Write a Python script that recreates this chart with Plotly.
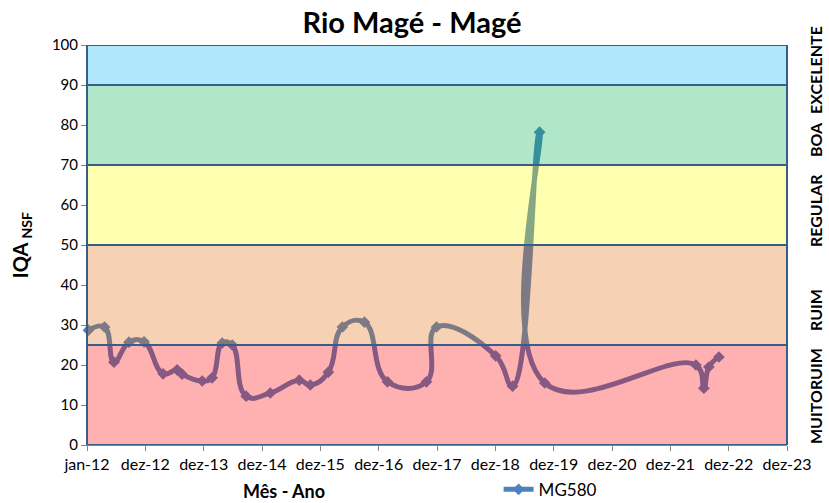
import datetime as dt
import plotly.graph_objects as go

# ---- data ----
dates = ["2012-01-10", "2012-04-20", "2012-06-18", "2012-09-20", "2012-12-23",
         "2013-04-21", "2013-07-18", "2013-08-18", "2013-12-22", "2014-02-22",
         "2014-04-26", "2014-06-28", "2014-09-23", "2015-02-21", "2015-08-21",
         "2015-10-29", "2016-02-19", "2016-05-17", "2016-10-02", "2017-02-23",
         "2017-10-25", "2017-12-27", "2019-01-01", "2019-04-17", "2019-10-03",
         "2019-11-04", "2022-06-07", "2022-07-27", "2022-08-27", "2022-10-29"]
iqa = [28.7, 29.5, 20.7, 25.7, 25.8,
       17.8, 18.8, 17.7, 16.0, 16.8,
       25.5, 25.0, 12.2, 13.0, 16.2,
       15.0, 18.2, 29.5, 30.7, 15.8,
       15.8, 29.5, 22.3, 14.7, 78.2,
       15.5, 20.0, 14.2, 19.5, 22.0]
series_name = "MG580"

tick_labels = ["jan-12", "dez-12", "dez-13", "dez-14", "dez-15", "dez-16",
               "dez-17", "dez-18", "dez-19", "dez-20", "dez-21", "dez-22", "dez-23"]

band_names = ["MUITORUIM", "RUIM", "REGULAR", "BOA", "EXCELENTE"]
band_low = [0, 25, 50, 70, 90]
band_high = [25, 50, 70, 90, 100]
band_colors = ["rgba(255,0,0,0.31)", "rgba(228,108,10,0.31)", "rgba(255,255,0,0.31)",
               "rgba(0,176,80,0.31)", "rgba(0,176,240,0.31)"]

# label placement (paper y) for the band names on the right
band_label_y = [0.1225, 0.3375, 0.585, 0.7625, 0.9375]

# ---- axis ticks (365-day steps from 1 Jan 2012) ----
base = dt.date(2012, 1, 1)
tick_vals = [(base + dt.timedelta(days=365 * i)).isoformat() for i in range(len(tick_labels))]

FONT = "Lato"

fig = go.Figure()
fig.add_trace(go.Scatter(
    x=dates, y=iqa, name=series_name, mode="lines+markers",
    line=dict(color="#4F81BD", width=5, shape="spline", smoothing=1.3),
    marker=dict(symbol="diamond", size=9, color="#4F81BD"),
    cliponaxis=False,
))

shapes = []
for lo, hi, c in zip(band_low, band_high, band_colors):
    shapes.append(dict(type="rect", xref="x domain", yref="y", x0=0, x1=1, y0=lo, y1=hi,
                       fillcolor=c, line=dict(width=0), layer="above"))
for lo, hi in zip(band_low, band_high):
    shapes.append(dict(type="rect", xref="x domain", yref="y", x0=0, x1=1, y0=lo, y1=hi,
                       fillcolor="rgba(0,0,0,0)", line=dict(color="#385D8A", width=2),
                       layer="above"))

annotations = []
for name, ly in zip(band_names, band_label_y):
    annotations.append(dict(text="<b>%s</b>" % name, xref="paper", yref="paper",
                            x=1.04, y=ly, showarrow=False, xanchor="center",
                            yanchor="middle", textangle=-90,
                            font=dict(family=FONT, size=16, color="black")))
annotations.append(dict(text="<b>IQA <sub>NSF</sub></b>", xref="paper", yref="paper",
                        x=-0.094, y=0.5, showarrow=False, textangle=-90,
                        xanchor="center", yanchor="middle",
                        font=dict(family=FONT, size=20, color="black")))
annotations.append(dict(text="<b>Mês - Ano</b>", xref="paper", yref="paper",
                        x=0.282, y=-0.115, showarrow=False, xanchor="center",
                        yanchor="middle",
                        font=dict(family=FONT, size=18, color="black")))

fig.update_layout(
    width=829, height=503,
    margin=dict(l=87, r=42, t=45, b=58, autoexpand=False),
    paper_bgcolor="white", plot_bgcolor="white",
    title=dict(text="<b>Rio Magé - Magé</b>", x=0.497, xanchor="center", y=0.955,
               yanchor="middle", font=dict(family=FONT, size=29, color="black")),
    font=dict(family=FONT, size=14, color="black"),
    shapes=shapes, annotations=annotations,
    showlegend=True,
    legend=dict(orientation="h", x=0.588, y=-0.112, xanchor="left", yanchor="middle",
                font=dict(family=FONT, size=17, color="black"), bgcolor="rgba(0,0,0,0)"),
    xaxis=dict(type="date", range=[tick_vals[0], tick_vals[-1]], tickmode="array",
               tickvals=tick_vals, ticktext=tick_labels, showgrid=False, zeroline=False,
               showline=True, linecolor="#868686", linewidth=1, ticks="outside",
               ticklen=5, tickcolor="#868686", tickfont=dict(family=FONT, size=16),
               automargin=False),
    yaxis=dict(range=[0, 100], dtick=10, showgrid=False, zeroline=False,
               showline=True, linecolor="#868686", linewidth=1, ticks="outside",
               ticklen=5, tickcolor="#868686", tickfont=dict(family=FONT, size=15),
               automargin=False),
)

fig.write_html("out.html", config={"displayModeBar": False},
               post_script="document.body.style.margin='0';")
